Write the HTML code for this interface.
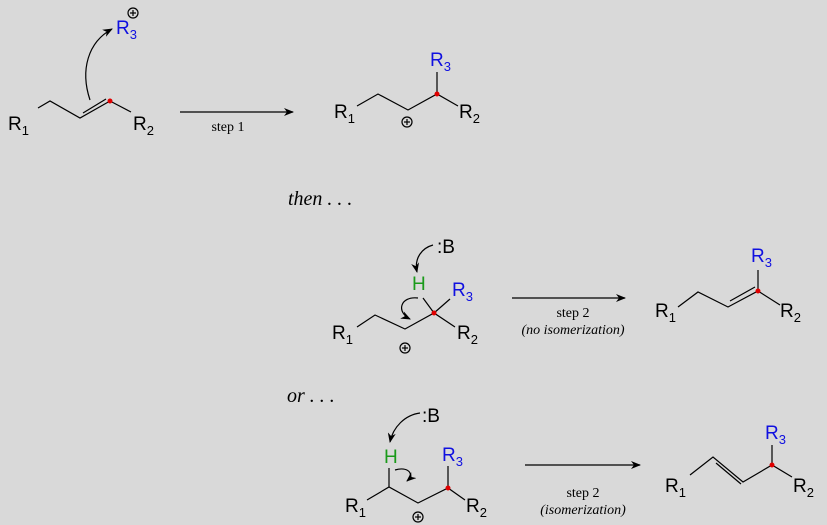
<!DOCTYPE html>
<html><head><meta charset="utf-8"><style>
html,body{margin:0;padding:0;background:#d9d9d9;}
svg{display:block;}
.t{font-family:"Liberation Sans",sans-serif;font-size:19px;}
.s{font-family:"Liberation Serif",serif;font-size:14px;}
.i{font-family:"Liberation Serif",serif;font-style:italic;}
</style></head><body>
<svg width="827" height="525" viewBox="0 0 827 525" xmlns="http://www.w3.org/2000/svg">
<defs><marker id="a" markerWidth="10" markerHeight="8" refX="9" refY="4" orient="auto" markerUnits="userSpaceOnUse"><path d="M0,0 L10,4 L0,8 L3,4 Z" fill="#000"/></marker></defs>
<rect width="827" height="525" fill="#d9d9d9"/>
<g stroke="#000" stroke-width="1.2" fill="none">
<polyline points="38,108 50,101 80,118 110,101 131,112"/>
<line x1="83" y1="113" x2="106" y2="99"/>
<path d="M90,100 C80,70 88,42 112,29" marker-end="url(#a)"/>
<line x1="180" y1="112" x2="293" y2="112" marker-end="url(#a)"/>
<polyline points="357,106 378,94 408,110 437,94 458,106"/>
<line x1="437" y1="94" x2="437" y2="72"/>
<polyline points="357,327 375,315 405,329 434,313 455,327"/>
<line x1="434" y1="313" x2="423" y2="298"/>
<line x1="434" y1="313" x2="450" y2="299"/>
<path d="M433,245 C422,248 414,258 417,272" marker-end="url(#a)"/>
<path d="M418,298 C400,296 396,312 410,319" marker-end="url(#a)"/>
<line x1="512" y1="298" x2="625" y2="298" marker-end="url(#a)"/>
<polyline points="678,307 698,292 728,307 758,291 780,305"/>
<line x1="730" y1="301" x2="755" y2="287"/>
<line x1="758" y1="291" x2="758" y2="270"/>
<polyline points="367,500 389,487 418,503 448,488 465,500"/>
<line x1="389" y1="487" x2="389" y2="468"/>
<line x1="448" y1="488" x2="448" y2="466"/>
<path d="M420,413 C405,415 393,427 390,442" marker-end="url(#a)"/>
<path d="M395,470 C408,466 415,474 407,481" marker-end="url(#a)"/>
<line x1="525" y1="465" x2="640" y2="465" marker-end="url(#a)"/>
<polyline points="690,475 713,457 743,482 772,465 792,477"/>
<line x1="716" y1="463" x2="741" y2="484"/>
<line x1="772" y1="465" x2="772" y2="445"/>
<circle cx="133" cy="13" r="5"/><line x1="130" y1="13" x2="136" y2="13"/><line x1="133" y1="10" x2="133" y2="16"/>
<circle cx="407" cy="122" r="5"/><line x1="404" y1="122" x2="410" y2="122"/><line x1="407" y1="119" x2="407" y2="125"/>
<circle cx="405" cy="348" r="5"/><line x1="402" y1="348" x2="408" y2="348"/><line x1="405" y1="345" x2="405" y2="351"/>
<circle cx="418" cy="517" r="5"/><line x1="415" y1="517" x2="421" y2="517"/><line x1="418" y1="514" x2="418" y2="520"/>
</g>
<g fill="#e00000"><circle cx="110" cy="101" r="2.5"/><circle cx="437" cy="94" r="2.5"/><circle cx="434" cy="313" r="2.5"/><circle cx="758" cy="291" r="2.5"/><circle cx="448" cy="488" r="2.5"/><circle cx="772" cy="465" r="2.5"/></g>
<g class="t">
<text x="8" y="130">R<tspan font-size="13" dy="5">1</tspan></text>
<text x="133" y="130">R<tspan font-size="13" dy="5">2</tspan></text>
<text x="116" y="34" fill="#1010e0">R<tspan font-size="13" dy="5">3</tspan></text>
<text x="334" y="118">R<tspan font-size="13" dy="5">1</tspan></text>
<text x="459" y="118">R<tspan font-size="13" dy="5">2</tspan></text>
<text x="430" y="66" fill="#1010e0">R<tspan font-size="13" dy="5">3</tspan></text>
<text x="332" y="339">R<tspan font-size="13" dy="5">1</tspan></text>
<text x="457" y="339">R<tspan font-size="13" dy="5">2</tspan></text>
<text x="452" y="296" fill="#1010e0">R<tspan font-size="13" dy="5">3</tspan></text>
<text x="412" y="290" fill="#1a9a1a">H</text>
<text x="437" y="253">:B</text>
<text x="655" y="317">R<tspan font-size="13" dy="5">1</tspan></text>
<text x="780" y="317">R<tspan font-size="13" dy="5">2</tspan></text>
<text x="751" y="262" fill="#1010e0">R<tspan font-size="13" dy="5">3</tspan></text>
<text x="345" y="512">R<tspan font-size="13" dy="5">1</tspan></text>
<text x="466" y="512">R<tspan font-size="13" dy="5">2</tspan></text>
<text x="442" y="461" fill="#1010e0">R<tspan font-size="13" dy="5">3</tspan></text>
<text x="384" y="463" fill="#1a9a1a">H</text>
<text x="422" y="422">:B</text>
<text x="665" y="492">R<tspan font-size="13" dy="5">1</tspan></text>
<text x="793" y="492">R<tspan font-size="13" dy="5">2</tspan></text>
<text x="765" y="439" fill="#1010e0">R<tspan font-size="13" dy="5">3</tspan></text>
</g>
<g class="s" text-anchor="middle">
<text x="228" y="131">step 1</text>
<text x="573" y="317">step 2</text>
<text x="573" y="334" font-style="italic">(no isomerization)</text>
<text x="583" y="497">step 2</text>
<text x="583" y="514" font-style="italic">(isomerization)</text>
</g>
<text class="i" x="288" y="205" font-size="20">then . . .</text>
<text class="i" x="287" y="402" font-size="20">or . . .</text>
</svg>
</body></html>
